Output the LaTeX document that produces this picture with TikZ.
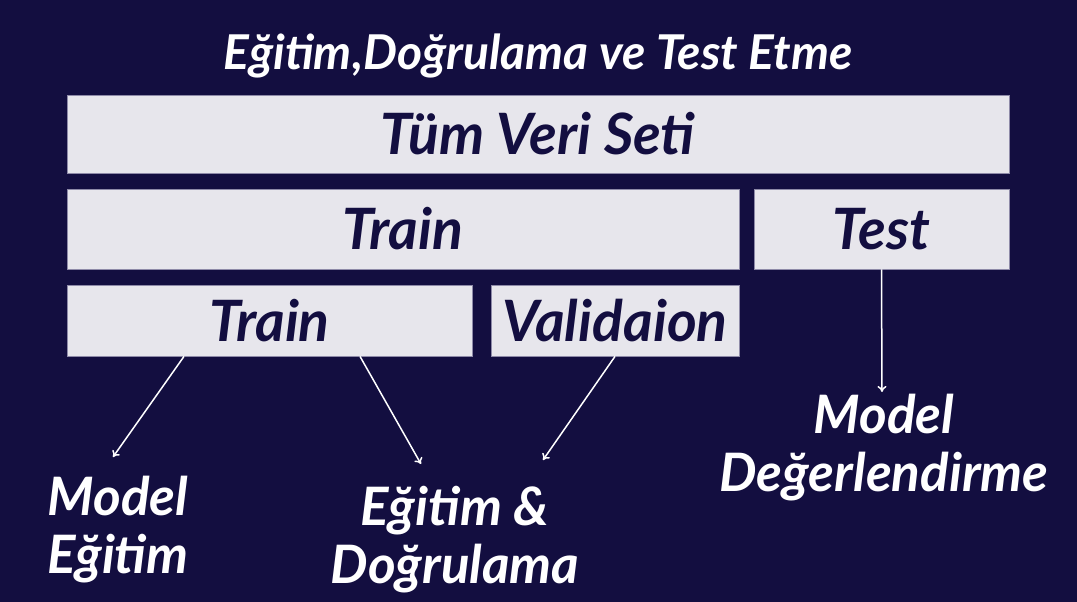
\documentclass[tikz,border=0pt]{standalone}
\usepackage{fontspec}
\setmainfont{Lato}
\usetikzlibrary{arrows.meta}
\definecolor{navy}{RGB}{19,14,64}
\definecolor{panel}{RGB}{231,230,236}
\definecolor{paneledge}{RGB}{142,138,168}
\begin{document}
\begin{tikzpicture}[x=1pt,y=-1pt,
  panelbox/.style={fill=panel,draw=paneledge,line width=0.8pt,inner sep=0pt,
    text=navy,font=\fontsize{57}{64}\selectfont\bfseries\itshape},
  whitelabel/.style={text=white,align=center,
    font=\fontsize{53}{58}\selectfont\bfseries\itshape},
  flow/.style={draw=white,line width=1.5pt,-{To[length=6pt,width=9pt]}}]
% canvas
\fill[navy] (0,0) rectangle (1077,602);
\useasboundingbox (0,0) rectangle (1077,602);

% heading
\node[anchor=base,text=white,font=\fontsize{48}{56}\selectfont\bfseries\itshape]
  (title) at (538,70) {Eğitim,Doğrulama ve Test Etme};

% data split panels
\node[panelbox,minimum width=942pt,minimum height=78pt] (all) at (538,134) {Tüm Veri Seti};
\node[panelbox,minimum width=672pt,minimum height=80pt] (train) at (403,229) {Train};
\node[panelbox,minimum width=255pt,minimum height=80pt] (test) at (881.5,229) {Test};
\node[panelbox,minimum width=405pt,minimum height=71pt] (subtrain) at (269.5,320.5) {Train};
\node[panelbox,minimum width=248pt,minimum height=71pt] (valid) at (615,320.5) {Validaion};

% outcome labels
\node[whitelabel] (fit) at (118,530) {Model\\Eğitim};
\node[whitelabel] (tune) at (455,540) {Eğitim \&\\Doğrulama};
\node[whitelabel] (eval) at (884,448) {Model\\Değerlendirme};

% arrow end points
\coordinate (fitin) at (113,457);
\coordinate (tunein) at (421,464);
\coordinate (tunein2) at (543,460);
\coordinate (evalin) at (882,392);

% connectors
\draw[flow] (subtrain.south -| 184,0) -- (fitin);
\draw[flow] (subtrain.south -| 360,0) -- (tunein);
\draw[flow] (valid.south) -- (tunein2);
\draw[flow] (test.south) -- (evalin);
\end{tikzpicture}
\end{document}
